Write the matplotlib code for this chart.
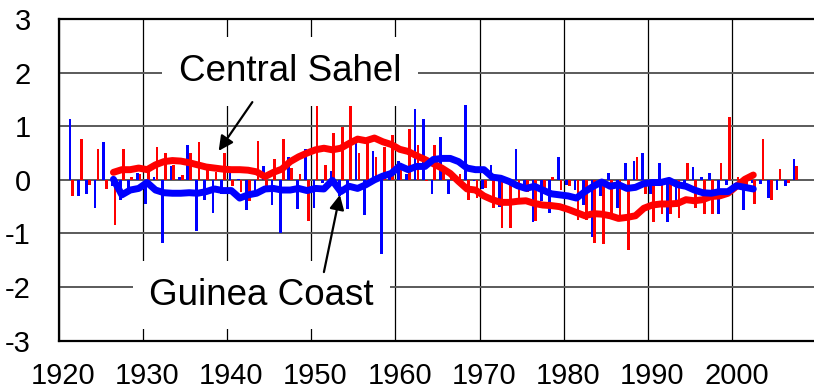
import numpy as np
import matplotlib
matplotlib.use('Agg')
import matplotlib.pyplot as plt

# yearly anomalies
years = np.arange(1921, 2008)
sahel = [-0.31, 0.76, -0.09, 0.58, -0.17, -0.84, 0.58, 0.05, 0.10, 0.15,
         0.61, 0.51, 0.28, 0.09, 0.51, 0.70, 0.19, 0.15, 0.51, -0.12,
         -0.23, -0.40, 0.73, -0.12, 0.39, 0.76, 0.23, 0.10, -0.76, 1.40,
         0.28, 0.88, 0.98, 1.43, 0.51, 0.79, 0.43, 0.62, 0.84, 0.30,
         0.95, 0.65, -0.03, 0.65, 0.19, 0.10, 0.10, -0.37, -0.34, -0.15,
         -0.53, -0.90, -0.90, -0.40, -0.22, -0.76, -0.22, 0.05, -0.19, -0.12,
         -0.75, -0.75, -1.17, -1.20, -0.64, -0.72, -1.31, 0.42, -0.26, -0.79,
         -0.64, -0.64, -0.72, 0.31, -0.53, -0.64, -0.64, 0.31, 1.17, 0.05,
         -0.20, -0.45, 0.76, -0.37, 0.20, -0.05, 0.25]
guinea = [1.13, -0.31, -0.27, -0.53, 0.70, -0.12, -0.37, -0.15, 0.12, -0.45,
          0.05, -1.17, 0.25, 0.05, 0.65, -0.95, -0.37, -0.61, -0.27, 0.13,
          0.01, -0.56, -0.25, 0.25, -0.47, -1.00, 0.43, -0.54, 0.58, -0.53,
          -0.06, 0.17, -0.31, -0.54, 0.70, -0.65, 0.54, -1.39, 0.10, 0.35,
          0.10, 1.32, 1.13, -0.27, 0.79, -0.27, 0.05, 1.40, -0.03, -0.17,
          0.28, -0.50, -0.05, 0.58, -0.10, -0.79, -0.40, -0.61, 0.43, -0.09,
          -0.19, -0.47, -1.06, -0.30, 0.12, -0.53, 0.31, 0.35, 0.51, -0.26,
          0.31, -0.79, -0.50, -0.15, 0.24, 0.05, 0.12, -0.64, -0.10, 0.00,
          -0.56, -0.05, -0.08, -0.34, -0.19, -0.12, 0.38]

# smoothed curves
smooth_years = np.arange(1926, 2003)
sahel_smooth = [0.14, 0.19, 0.19, 0.22, 0.19, 0.28, 0.34, 0.36, 0.35, 0.32,
                0.28, 0.24, 0.22, 0.20, 0.19, 0.19, 0.18, 0.15, 0.06, 0.14,
                0.20, 0.34, 0.43, 0.50, 0.56, 0.59, 0.56, 0.59, 0.68, 0.76,
                0.73, 0.78, 0.71, 0.66, 0.57, 0.53, 0.45, 0.38, 0.30, 0.22,
                0.12, -0.03, -0.17, -0.19, -0.30, -0.37, -0.42, -0.42, -0.40, -0.39,
                -0.44, -0.47, -0.48, -0.50, -0.55, -0.61, -0.67, -0.63, -0.64, -0.67,
                -0.72, -0.70, -0.67, -0.53, -0.47, -0.45, -0.45, -0.44, -0.37, -0.39,
                -0.37, -0.31, -0.30, -0.25, -0.12, 0.01, 0.09]
guinea_smooth = [0.01, -0.28, -0.19, -0.16, -0.05, -0.19, -0.24, -0.25, -0.25, -0.24,
                 -0.25, -0.22, -0.17, -0.20, -0.20, -0.34, -0.28, -0.25, -0.17, -0.16,
                 -0.19, -0.19, -0.16, -0.20, -0.16, -0.17, -0.01, -0.22, -0.12, -0.16,
                 -0.09, 0.00, 0.07, 0.12, 0.26, 0.19, 0.25, 0.25, 0.38, 0.40,
                 0.40, 0.34, 0.22, 0.19, 0.19, 0.05, 0.03, -0.03, -0.11, -0.16,
                 -0.12, -0.19, -0.26, -0.28, -0.30, -0.34, -0.22, -0.12, -0.04, -0.12,
                 -0.09, -0.16, -0.14, -0.07, -0.05, -0.05, -0.01, -0.09, -0.12, -0.19,
                 -0.24, -0.25, -0.22, -0.22, -0.11, -0.14, -0.17]

decades = np.arange(1920, 2011, 10)
decade_labels = [str(d) for d in decades[:-1]]
yticks = np.arange(-3, 4)

plt.rcParams['font.family'] = ['Liberation Sans', 'DejaVu Sans']

fig = plt.figure(figsize=(8.14, 3.92), dpi=100)
ax = fig.add_axes([0.0721, 0.1309, 0.9309, 0.8206])

# Excel-style category axis: bar for each year sits in the middle of its slot
ax.bar(years + 0.5 - 0.17, guinea, width=0.32, color='#0000ff', zorder=3)
ax.bar(years + 0.5 + 0.17, sahel, width=0.32, color='#ff0000', zorder=3)
ax.plot(smooth_years + 0.5, sahel_smooth, color='#ff0000', lw=5,
        solid_capstyle='round', solid_joinstyle='round', zorder=4)
ax.plot(smooth_years + 0.5, guinea_smooth, color='#0000ff', lw=5,
        solid_capstyle='round', solid_joinstyle='round', zorder=4)

ax.set_xlim(1920, 2010)
ax.set_ylim(-3, 3)
ax.set_xticks(decades)
ax.set_xticklabels([])
ax.set_xticks(decades[:-1] + 0.5, minor=True)
ax.set_xticklabels(decade_labels, minor=True)
ax.set_yticks(yticks)
ax.set_yticklabels([str(v) for v in yticks])
ax.tick_params(axis='x', which='both', length=0, labelsize=21, pad=15)
ax.tick_params(axis='y', length=0, labelsize=21, pad=20)

ax.xaxis.grid(True, color='black', lw=0.9, zorder=1)
ax.yaxis.grid(True, color='#5a5a5a', lw=1.4, zorder=1)
ax.set_axisbelow(True)
for side in ['top', 'left', 'bottom']:
    ax.spines[side].set_linewidth(1.6)
ax.spines['right'].set_visible(False)

box = dict(boxstyle='square,pad=0.45', facecolor='white', edgecolor='none')
ax.text(1947.5, 2.02, 'Central Sahel', fontsize=26.5, ha='center', va='center',
        bbox=box, zorder=5)
ax.text(1944.1, -2.15, 'Guinea Coast', fontsize=26.5, ha='center', va='center',
        bbox=box, zorder=5)

arrow = dict(arrowstyle='-|>', color='black', lw=1.6, mutation_scale=22,
             shrinkA=0, shrinkB=0)
ax.annotate('', xy=(1939.0, 0.54), xytext=(1943.0, 1.45), arrowprops=arrow, zorder=6)
ax.annotate('', xy=(1953.4, -0.28), xytext=(1951.5, -1.72), arrowprops=arrow, zorder=6)

fig.savefig('out.png', dpi=100)
